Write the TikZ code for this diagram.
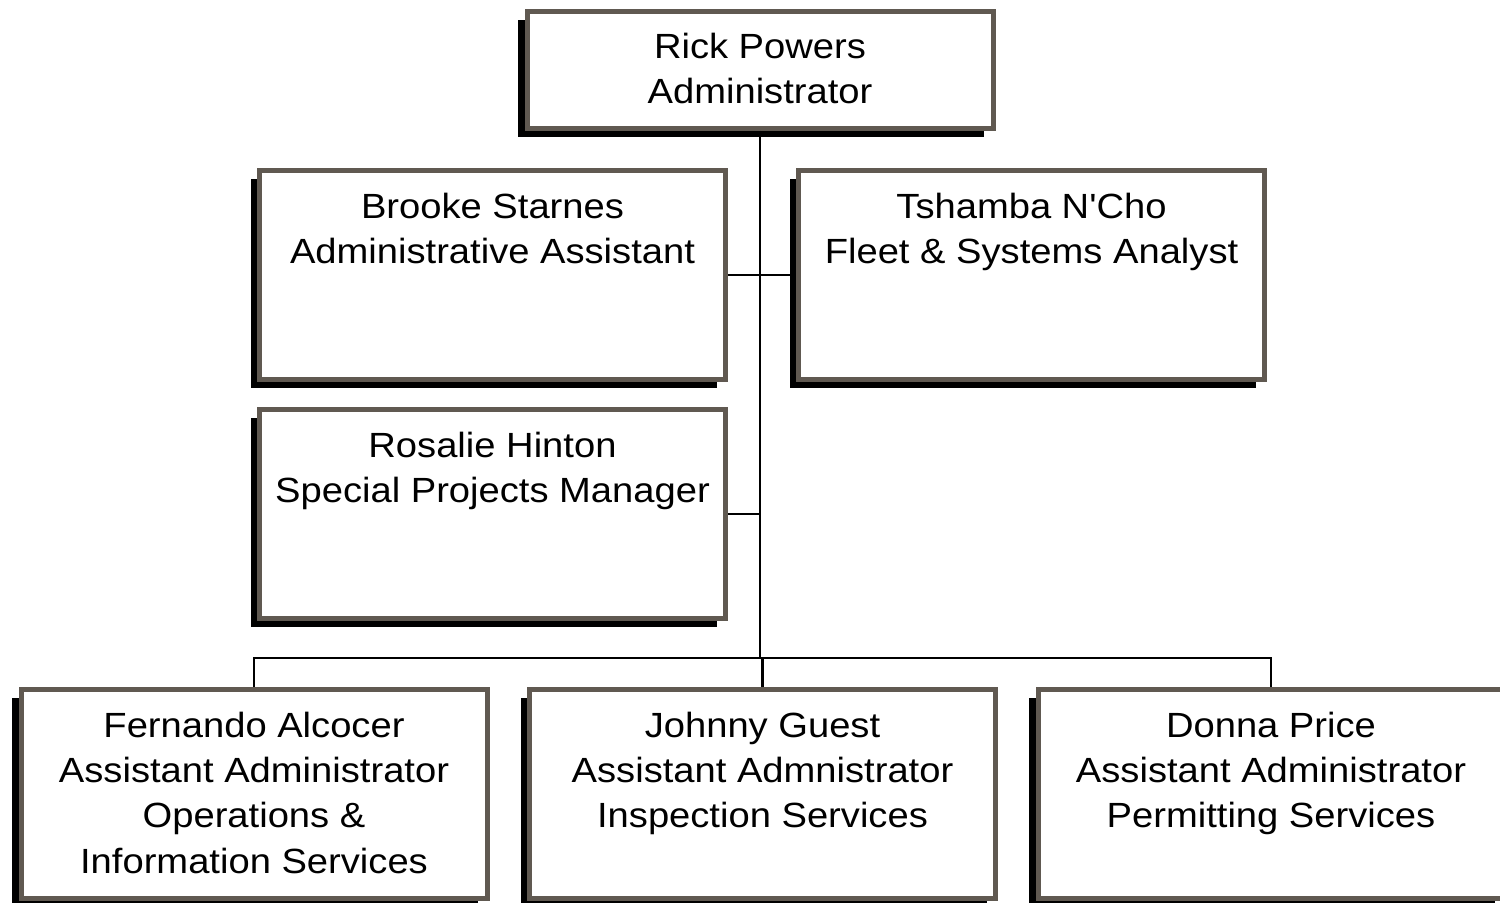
\documentclass[tikz,border=0pt]{standalone}
\usepackage{fontspec}
\setmainfont{Liberation Sans}
\usetikzlibrary{shadows,calc}
\definecolor{frame}{RGB}{96,89,81}
\newcommand\who[1]{\scalebox{1.09}[1]{\begin{tabular}{@{}c@{}}#1\end{tabular}}}

\begin{document}
\begin{tikzpicture}[x=0.75pt,y=-0.75pt]
\tikzset{post/.style={rectangle,draw=frame,line width=3.75pt,fill=white,
  minimum width=349.5pt,minimum height=156.75pt,inner sep=0pt,
  drop shadow={shadow xshift=-6.4pt,shadow yshift=-6.4pt,fill=black,opacity=1}},
  title/.style={anchor=north,inner sep=0pt,font=\fontsize{26.25}{34}\selectfont},
  link/.style={line width=1.9pt,black}}
\useasboundingbox (0,0) rectangle (1500,903);

\node[post,minimum height=87.75pt](rick)at(760,69.5){};
\node[post](brooke)at(492.5,275){};
\node[post](tshamba)at(1031.5,275){};
\node[post](rosalie)at(492.5,514){};
\node[post](fernando)at(254,794){};
\node[post](johnny)at(762.5,794){};
\node[post](donna)at(1271,794){};
\coordinate(hub)at(760,658);

\node[title](rick-t)at([yshift=-13.6pt]rick.north){\who{Rick Powers\\Administrator}};
\node[title](brooke-t)at([yshift=-13.6pt]brooke.north){\who{Brooke Starnes\\Administrative Assistant}};
\node[title](tshamba-t)at([yshift=-13.6pt]tshamba.north){\who{Tshamba N\textquotesingle Cho\\Fleet \& Systems Analyst}};
\node[title](rosalie-t)at([yshift=-13.6pt]rosalie.north){\who{Rosalie Hinton\\Special Projects Manager}};
\node[title](fernando-t)at([yshift=-13.6pt]fernando.north){\who{Fernando Alcocer\\Assistant Administrator\\Operations \&\\Information Services}};
\node[title](johnny-t)at([yshift=-13.6pt]johnny.north){\who{Johnny Guest\\Assistant Admnistrator\\Inspection Services}};
\node[title](donna-t)at([yshift=-13.6pt]donna.north){\who{Donna Price\\Assistant Administrator\\Permitting Services}};

\draw[link](rick.south)--(hub);
\draw[link](brooke.east)--(tshamba.west);
\draw[link](rosalie.east)--(rosalie.east-|hub);
\draw[link](fernando.north)|-(hub)-|(donna.north);
\draw[link](johnny.north|-hub)--(johnny.north);
\end{tikzpicture}
\end{document}
